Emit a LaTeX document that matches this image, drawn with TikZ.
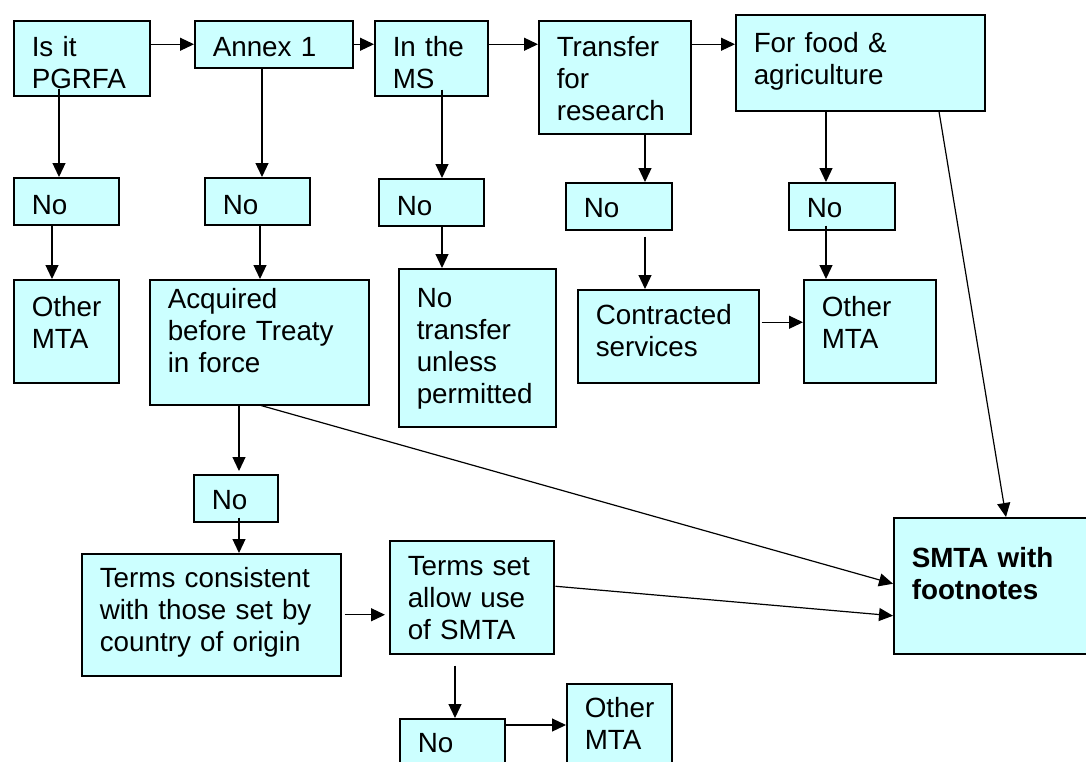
\documentclass[tikz,border=0pt]{standalone}
\usepackage{fontspec}
\setmainfont{Liberation Sans}
\usetikzlibrary{arrows.meta}
\definecolor{boxcyan}{RGB}{204,255,255}
\hyphenpenalty=10000

\begin{document}
\begin{tikzpicture}[x=1pt, y=-1pt,
  box/.style n args={3}{draw, line width=1.5pt, fill=boxcyan, anchor=north west,
    inner xsep=18pt, inner ysep=0pt, align=left, text width=#1pt,
    text height=#2pt, text depth=#3pt, font=\fontsize{27.8}{32}\selectfont},
  arr/.style={line width=1.2pt, -{Triangle[length=14pt,width=13pt]}}]
  \useasboundingbox (0,0) rectangle (1086,761);
  \clip (0,0) rectangle (1086,761);
  \node[box={100}{36}{39}] (pgrfa) at (13,20) {Is it\\PGRFA};
  \node[box={122}{36}{11}] (annex) at (194,20) {Annex 1};
  \node[box={77}{36}{39}] (ms) at (374,20) {In the\\MS};
  \node[box={116}{36}{77}] (transfer) at (538,20) {Transfer\\for\\research};
  \node[box={213}{38}{58}] (food) at (735,14) {For food \&\\agriculture};
  \node[box={69}{37}{10}] (noA) at (13,177) {No};
  \node[box={69}{37}{10}] (noB) at (204,177) {No};
  \node[box={69}{37}{10}] (noC) at (378,178) {No};
  \node[box={70}{35}{12}] (noD) at (565,182) {No};
  \node[box={70}{35}{12}] (noE) at (788,182) {No};
  \node[box={69}{37}{66}] (otherA) at (13,279) {Other\\MTA};
  \node[box={183}{29}{96}] (acquired) at (149,279) {Acquired\\before Treaty\\in force};
  \node[box={121}{39}{119}] (notransfer) at (398,268) {No\\transfer\\unless\\permitted};
  \node[box={145}{35}{58}] (contracted) at (577,289) {Contracted\\services};
  \node[box={96}{37}{66}] (otherB) at (803,279) {Other\\MTA};
  \node[box={48}{35}{12}] (noF) at (193,474) {No};
  \node[box={223}{34}{88}] (terms) at (81,553) {Terms consistent\\with those set by\\country of origin};
  \node[box={128}{35}{78}] (termsset) at (389,540) {Terms set\\allow use\\of SMTA};
  \node[box={69}{34}{23}] (noG) at (399,718) {No};
  \node[box={69}{34}{58}] (otherC) at (566,683) {Other\\MTA};
  \node[box={164}{50}{86}] (smta) at (893,517) {\textbf{SMTA with}\\\textbf{footnotes}};
  \draw[arr] (pgrfa.east |- annex.west) -- (annex.west);
  \draw[arr] (annex.east) -- (annex.east -| ms.west);
  \draw[arr] (ms.east |- annex.east) -- (transfer.west |- annex.east);
  \draw[arr] (transfer.east |- annex.east) -- (food.west |- annex.east);
  \draw[arr] ([xshift=46,yshift=8]pgrfa.south west) -- ([xshift=46]noA.north west);
  \draw[arr] ([xshift=68]annex.south west) -- ([xshift=58]noB.north west);
  \draw[arr] ([xshift=68,yshift=7]ms.south west) -- ([xshift=64]noC.north west);
  \draw[arr] ([xshift=107]transfer.south west) -- ([xshift=80]noD.north west);
  \draw[arr] ([xshift=91]food.south west) -- ([xshift=38]noE.north west);
  \draw[arr] ([xshift=39]noA.south west) -- ([xshift=39]otherA.north west);
  \draw[arr] ([xshift=56]noB.south west) -- ([xshift=111]acquired.north west);
  \draw[arr] ([xshift=64]noC.south west) -- ([xshift=44]notransfer.north west);
  \draw[arr] ([xshift=80,yshift=-6]noD.south west) -- ([xshift=68]contracted.north west);
  \draw[arr] ([xshift=38,yshift=5]noE.south west) -- ([xshift=23]otherB.north west);
  \draw[arr] ([xshift=2,yshift=14]contracted.east) -- ([yshift=14]contracted.east -| otherB.west);
  \draw[arr] ([xshift=90]acquired.south west) -- ([xshift=46,yshift=3]noF.north west);
  \draw[arr] ([xshift=112]acquired.south west) -- ([yshift=2]smta.west);
  \draw[arr] ([xshift=204]food.south west) -- ([xshift=113]smta.north west);
  \draw[arr] ([xshift=46,yshift=5]noF.south west) -- ([xshift=158]terms.north west);
  \draw[arr] ([xshift=3]terms.east) -- ([xshift=-4]terms.east -| termsset.west);
  \draw[arr] ([xshift=1,yshift=11]termsset.east) -- ([yshift=-30]smta.west);
  \draw[arr] ([xshift=66,yshift=-11]termsset.south west) -- ([xshift=56]noG.north west);
  \draw[arr] ([yshift=-7]noG.north east) -- ([yshift=-7]noG.north east -| otherC.west);
\end{tikzpicture}
\end{document}
